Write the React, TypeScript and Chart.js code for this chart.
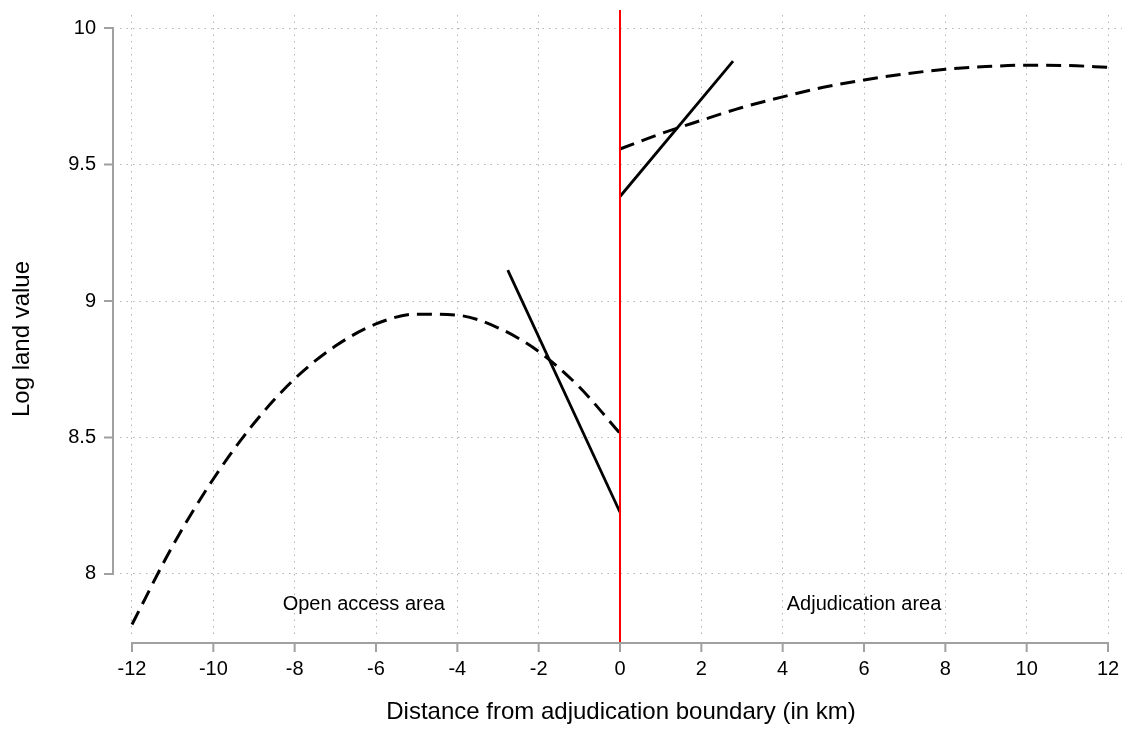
import React, { useEffect, useRef } from "react";
import { Chart, registerables } from "chart.js";

Chart.register(...registerables);

// ---- data ----
const xTicks = [-12, -10, -8, -6, -4, -2, 0, 2, 4, 6, 8, 10, 12];
const yTicks = [8, 8.5, 9, 9.5, 10];
const yTickLabels = ["8", "8.5", "9", "9.5", "10"];

const leftFitX = [-12, -11, -10, -9, -8, -7, -6, -5, -4, -3, -2, -1, 0];
const leftFitY = [7.815, 8.103, 8.348, 8.552, 8.715, 8.835, 8.916, 8.952, 8.948, 8.902, 8.815, 8.685, 8.515];

const rightFitX = [0, 1, 2, 3, 4, 5, 6, 7, 8, 9, 10, 11, 12];
const rightFitY = [9.557, 9.613, 9.662, 9.709, 9.748, 9.783, 9.81, 9.832, 9.849, 9.859, 9.864, 9.863, 9.856];

const leftLinX = [-2.76, 0];
const leftLinY = [9.113, 8.226];
const rightLinX = [0, 2.78];
const rightLinY = [9.383, 9.879];

const boundaryX = 0;

const areaLabels = ["Open access area", "Adjudication area"];
const areaLabelX = [-6.3, 6.0];
const areaLabelY = [7.868, 7.868];

const xTitle = "Distance from adjudication boundary (in km)";
const yTitle = "Log land value";

const FONT = "'Liberation Sans', Arial, Helvetica, sans-serif";

const pts = (xs: number[], ys: number[]) => xs.map((x, i) => ({ x, y: ys[i] }));

const zeroPad = (s: any) => {
  s.paddingLeft = 0;
  s.paddingRight = 0;
  s.paddingTop = 0;
  s.paddingBottom = 0;
};

const decorPlugin = {
  id: "decor",
  afterDatasetsDraw(chart: any) {
    const { ctx, chartArea, scales } = chart;
    const xs = scales.x;
    const ys = scales.y;
    ctx.save();
    // red boundary line
    const bx = xs.getPixelForValue(boundaryX);
    const xAxisY = chartArea.bottom + 6;
    ctx.strokeStyle = "#ff0000";
    ctx.lineWidth = 2;
    ctx.beginPath();
    ctx.moveTo(bx, chartArea.top - 5);
    ctx.lineTo(bx, xAxisY);
    ctx.stroke();

    // axes (offset, Stata style)
    ctx.strokeStyle = "#a0a0a0";
    ctx.lineWidth = 2;
    const yAxisX = chartArea.left - 7;
    ctx.beginPath();
    ctx.moveTo(yAxisX, ys.getPixelForValue(yTicks[0]));
    ctx.lineTo(yAxisX, ys.getPixelForValue(yTicks[yTicks.length - 1]));
    for (const v of yTicks) {
      const p = ys.getPixelForValue(v);
      ctx.moveTo(yAxisX + 1, p);
      ctx.lineTo(yAxisX - 9, p);
    }
    ctx.moveTo(xs.getPixelForValue(xTicks[0]), xAxisY);
    ctx.lineTo(xs.getPixelForValue(xTicks[xTicks.length - 1]), xAxisY);
    for (const v of xTicks) {
      const p = xs.getPixelForValue(v);
      ctx.moveTo(p, xAxisY - 1);
      ctx.lineTo(p, xAxisY + 9);
    }
    ctx.stroke();

    // area labels
    ctx.fillStyle = "#000";
    ctx.font = `20px ${FONT}`;
    ctx.textAlign = "center";
    ctx.textBaseline = "alphabetic";
    areaLabels.forEach((t, i) => {
      ctx.fillText(t, xs.getPixelForValue(areaLabelX[i]), ys.getPixelForValue(areaLabelY[i]));
    });

    // axis titles
    ctx.font = `24px ${FONT}`;
    ctx.textBaseline = "middle";
    ctx.fillText(xTitle, (chartArea.left + chartArea.right) / 2, 712);
    ctx.translate(22, 339);
    ctx.rotate(-Math.PI / 2);
    ctx.fillText(yTitle, 0, 0);
    ctx.restore();
  },
};

export default function App() {
  const ref = useRef<HTMLCanvasElement>(null);
  useEffect(() => {
    if (!ref.current) return;
    const dashed = { borderColor: "#000", borderWidth: 3, borderDash: [15, 8], pointRadius: 0, cubicInterpolationMode: "monotone" as const, fill: false };
    const solid = { borderColor: "#000", borderWidth: 2.8, pointRadius: 0, fill: false };
    const chart = new Chart(ref.current, {
      type: "line",
      data: {
        datasets: [
          { label: "left fit", data: pts(leftFitX, leftFitY), ...dashed },
          { label: "right fit", data: pts(rightFitX, rightFitY), ...dashed },
          { label: "left linear", data: pts(leftLinX, leftLinY), ...solid },
          { label: "right linear", data: pts(rightLinX, rightLinY), ...solid },
        ],
      },
      options: {
        animation: false,
        responsive: false,
        maintainAspectRatio: false,
        layout: { padding: { top: 15, right: 2, left: 0, bottom: 0 } },
        plugins: { legend: { display: false }, tooltip: { enabled: false } },
        scales: {
          x: {
            type: "linear",
            min: -12.295,
            max: 12.344,
            afterBuildTicks: (s: any) => {
              s.ticks = xTicks.map((v) => ({ value: v }));
            },
            afterFit: (s: any) => {
              s.height = 95;
              zeroPad(s);
            },
            ticks: {
              color: "#000",
              font: { family: FONT, size: 20 },
              padding: 20,
              maxRotation: 0,
              autoSkip: false,
              callback: (v: any) => String(v),
            },
            grid: { color: "#b4b4b4", lineWidth: 1, drawTicks: false },
            border: { display: false, dash: [1.5, 5] },
          },
          y: {
            type: "linear",
            min: 7.769,
            max: 10.048,
            afterBuildTicks: (s: any) => {
              s.ticks = yTicks.map((v) => ({ value: v }));
            },
            afterFit: (s: any) => {
              s.width = 120;
              zeroPad(s);
            },
            ticks: {
              color: "#000",
              font: { family: FONT, size: 20 },
              padding: 24,
              autoSkip: false,
              callback: (v: any) => yTickLabels[yTicks.indexOf(Number(v))] ?? String(v),
            },
            grid: { color: "#b4b4b4", lineWidth: 1, drawTicks: false },
            border: { display: false, dash: [1.5, 5] },
          },
        },
      },
      plugins: [decorPlugin],
    });
    return () => chart.destroy();
  }, []);
  return (
    <div style={{ position: "fixed", left: 0, top: 0, width: 1124, height: 732, background: "#fff" }}>
      <canvas ref={ref} width={1124} height={732} style={{ width: 1124, height: 732, display: "block" }} />
    </div>
  );
}
